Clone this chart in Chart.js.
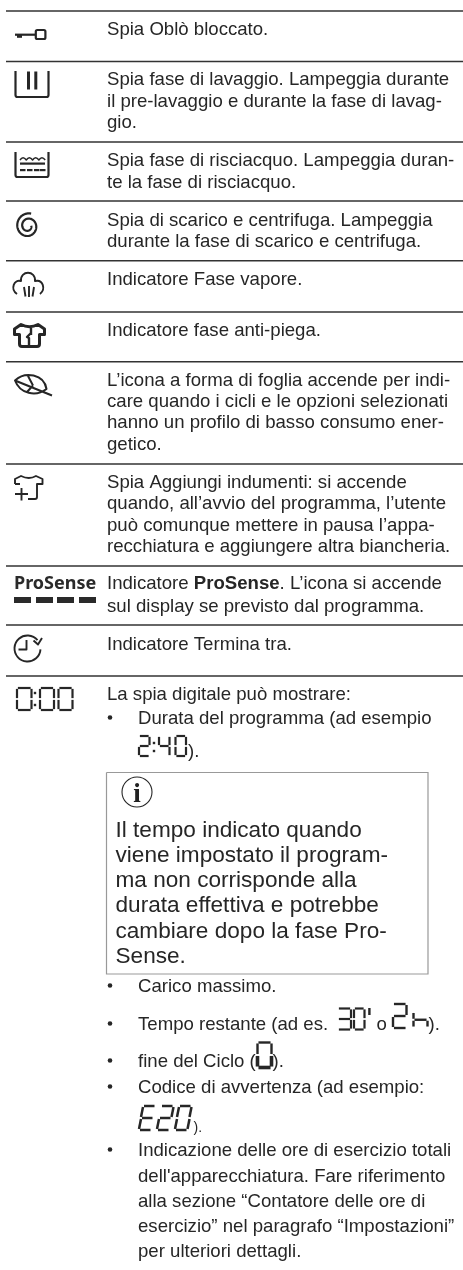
<!DOCTYPE html>
<html lang="it"><head><meta charset="utf-8">
<style>html,body{margin:0;padding:0;background:#fff}canvas{display:block;filter:blur(0.35px)}</style>
<script src="https://cdn.jsdelivr.net/npm/chart.js@4"></script>
</head><body>
<canvas id="c" width="463" height="1270"></canvas>
<script>
// ---- content ----
const rowTexts = [
 ["Spia Oblò bloccato."],
 ["Spia fase di lavaggio. Lampeggia durante","il pre-lavaggio e durante la fase di lavag-","gio."],
 ["Spia fase di risciacquo. Lampeggia duran-","te la fase di risciacquo."],
 ["Spia di scarico e centrifuga. Lampeggia","durante la fase di scarico e centrifuga."],
 ["Indicatore Fase vapore."],
 ["Indicatore fase anti-piega."],
 ["L’icona a forma di foglia accende per indi-","care quando i cicli e le opzioni selezionati","hanno un profilo di basso consumo ener-","getico."],
 ["Spia Aggiungi indumenti: si accende","quando, all’avvio del programma, l’utente","può comunque mettere in pausa l’appa-","recchiatura e aggiungere altra biancheria."],
 ["Indicatore **ProSense**. L’icona si accende","sul display se previsto dal programma."],
 ["Indicatore Termina tra."],
 ["La spia digitale può mostrare:"]
];
const rowBaselines = [[35],[85,106.7,128],[165.8,187.7],[226,246.8],[285],[335.8],[385.8,407,428.3,450],[488,509.3,530.7,551.8],[589.3,611.7],[650],[700]];
const noteLines = ["Il tempo indicato quando","viene impostato il program-","ma non corrisponde alla","durata effettiva e potrebbe","cambiare dopo la fase Pro-","Sense."];
const noteBaselines = [836.7,862.2,887.3,912.4,938.3,963.4];
const bulletLines = ["Durata del programma (ad esempio","Carico massimo.","Tempo restante (ad es. ","fine del Ciclo (","Codice di avvertenza (ad esempio:","Indicazione delle ore di esercizio totali","dell'apparecchiatura. Fare riferimento","alla sezione “Contatore delle ore di","esercizio” nel paragrafo “Impostazioni”","per ulteriori dettagli."];
const bulletBaselines = [724,992.3,1030,1067.4,1093.3,1156,1181.5,1207,1232,1257];
const ruleRows = [11,61.5,142,201,260.7,312,361.7,464,566,625,676];
const bulletRows = [717.5,985.5,1023.5,1060.5,1086.5,1149.5];
const noteBoxX = [106.5,428,428,106.5,106.5];
const noteBoxY = [772.5,772.5,974,974,772.5];

const INK='#262626';
function P(c,f){c.beginPath();f(c);c.stroke();}
function S(c,lw){c.lineWidth=lw;c.strokeStyle=INK;c.fillStyle=INK;c.lineCap='butt';c.lineJoin='round';}

// seven-segment glyph
const SEG={0:'abcdef',2:'abged',3:'abgcd',4:'fgbc',E:'afged',h:'fegc'};
function seg(c,x,y,w,h,ch,lw,skew=0,heavy){
  const X=(u,v)=>x+u*w+skew*(1-v), Y=v=>y+v*h, g=lw*0.4;
  const L={a:[[0,0],[1,0]],b:[[1,0],[1,.5]],c:[[1,.5],[1,1]],d:[[1,1],[0,1]],e:[[0,1],[0,.5]],f:[[0,.5],[0,0]],g:[[0,.5],[1,.5]]};
  S(c,lw);
  for(const s of SEG[ch]){
    const [p,q]=L[s];
    const dx=Math.sign(q[0]-p[0])*g, dy=Math.sign(q[1]-p[1])*g;
    c.lineWidth=(heavy&&(s==='d'||s==='c'||s==='e'))?lw*1.5:lw;
    P(c,k=>{k.moveTo(X(p[0],p[1])+dx,Y(p[1])+dy);k.lineTo(X(q[0],q[1])-dx,Y(q[1])-dy);});
  }
}
function colon(c,x,y1,y2){c.fillStyle=INK;c.fillRect(x-1.2,y1-1.2,2.4,2.4);c.fillRect(x-1.2,y2-1.2,2.4,2.4);}

function icons(c){
  // key
  S(c,2.2);
  c.fillRect(15,33.6,20,2.2); c.fillRect(17,35,5,2.8);
  c.beginPath();c.roundRect(35.8,30,9.6,9,1.5);c.stroke();
  // wash tub
  S(c,2.2);
  P(c,k=>{k.moveTo(15.5,71);k.lineTo(15.5,95);k.quadraticCurveTo(15.5,97,17.5,97);k.lineTo(46.5,97);k.quadraticCurveTo(48.5,97,48.5,95);k.lineTo(48.5,71);});
  c.fillRect(27,71.5,3,18);c.fillRect(34.3,71.5,3,18);
  // rinse tub
  P(c,k=>{k.moveTo(15.5,152);k.lineTo(15.5,175);k.quadraticCurveTo(15.5,177,17.5,177);k.lineTo(46.5,177);k.quadraticCurveTo(48.5,177,48.5,175);k.lineTo(48.5,152);});
  S(c,1.5);
  P(c,k=>{k.moveTo(20,160);for(let i=0;i<4;i++){k.quadraticCurveTo(23+i*6.3,155.5,26.3+i*6.3,160);}});
  c.fillRect(20,162.5,25,2.2);
  for(const x of [20,27,34,40]) c.fillRect(x,169,5.5,2.2);
  // spiral
  S(c,2.2);
  P(c,k=>{const cx=28,cy=226;for(let i=0;i<=120;i++){const t=i/120,a=(-75-t*650)*Math.PI/180,r=12.8-t*9.4;const px=cx+r*Math.cos(a)*0.95,py=cy+r*Math.sin(a);i?k.lineTo(px,py):k.moveTo(px,py);}});
  // cloud
  S(c,1.9);
  P(c,k=>{k.moveTo(17,294);k.bezierCurveTo(10,289,14,279,21,281);k.bezierCurveTo(20,270,36,270,35,281);k.bezierCurveTo(43,279,46,289,40,294);});
  P(c,k=>{k.moveTo(24,287);k.lineTo(25.5,296.5);k.moveTo(29,286);k.lineTo(29,297);k.moveTo(34,287);k.lineTo(32.5,296.5);});
  // anti-crease shirt
  S(c,3);
  P(c,k=>{k.moveTo(21,324.5);k.quadraticCurveTo(29.5,329,38,324.5);k.lineTo(44.5,329);k.lineTo(44.5,334.5);k.lineTo(39.5,334.5);k.lineTo(39.5,344);k.quadraticCurveTo(39.5,346.5,37,346.5);k.lineTo(22,346.5);k.quadraticCurveTo(19.5,346.5,19.5,344);k.lineTo(19.5,334.5);k.lineTo(14.5,334.5);k.lineTo(14.5,329);k.closePath();});
  S(c,2.4);
  P(c,k=>{k.moveTo(31,328);k.lineTo(31,335);k.moveTo(31,333);k.lineTo(27,337);k.lineTo(29,338);k.lineTo(29,346);});
  // leaf
  S(c,2);
  P(c,k=>{k.moveTo(15,380.5);k.bezierCurveTo(25,371,44,374,46.5,389);k.bezierCurveTo(36,397,20,394,15,380.5);k.closePath();
          k.moveTo(15,380.5);k.lineTo(52,395.5);k.moveTo(28,376);k.lineTo(33,385.5);k.moveTo(27,392);k.lineTo(33,385.5);});
  // add-laundry shirt
  S(c,1.9);
  P(c,k=>{k.moveTo(15,484);k.lineTo(15,479);k.lineTo(21,476);k.quadraticCurveTo(29,480,36,476);k.lineTo(42.5,479);k.lineTo(42.5,484);k.lineTo(37,484);k.lineTo(37,497);k.quadraticCurveTo(37,499,35,499);k.lineTo(28,499);
          k.moveTo(15,484);k.lineTo(20,484);k.moveTo(15,494);k.lineTo(28,494);k.moveTo(21.5,488);k.lineTo(21.5,500.5);});
  // ProSense logo
  c.font='bold 18px "Noto Sans"';c.fillStyle='#2a2a2a';c.textAlign='left';
  c.fillText('ProSense',14,589.3);
  for(const x of [14,36,57,79]) c.fillRect(x,597,17,6);
  // clock
  S(c,1.9);
  P(c,k=>{k.arc(27.5,648.5,13,0.02*Math.PI,-0.22*Math.PI,false);});
  P(c,k=>{k.moveTo(26.5,640);k.lineTo(26.5,649.5);k.lineTo(18.5,649.5);});
  P(c,k=>{k.moveTo(33.5,640.5);k.lineTo(38,644.5);k.lineTo(42,638);});
  // 0:00
  seg(c,17,688,14.5,22,0,2.2);colon(c,35,693,705);
  seg(c,40,688,14,22,0,2.2);seg(c,58.5,688,14,22,0,2.2);
  // 2:40
  seg(c,139,736,10.5,20,2,2.2);colon(c,154,743,751);
  seg(c,159,736,10.5,20,4,2.2);seg(c,175.5,736,10.5,20,0,2.2);
  // 30'
  seg(c,338,1008.5,13,21,3,2.2);seg(c,354,1008.5,10.5,21,0,2.2);
  c.fillRect(368.2,1008,2.4,7);
  // 2h
  seg(c,393,1004,13.5,24,2,2.4);seg(c,413.5,1012,14,15.5,'h',2.4);
  // end
  seg(c,257.5,1042.5,14,25,0,2.4,0,true);
  // E20
  seg(c,139,1106,12.5,24,'E',2.5,4);seg(c,157,1106,12.5,24,2,2.5,4);seg(c,175,1106,12.5,24,0,2.5,4);
}

const textPlugin={id:'tablePage',afterDatasetsDraw(ch){
  const c=ch.ctx,xs=ch.scales.x,ys=ch.scales.y;
  const X=v=>xs.getPixelForValue(v),Y=v=>ys.getPixelForValue(v);
  c.save();
  c.textBaseline='alphabetic';c.textAlign='left';
  const BODY='18.6px "Liberation Sans"',BOLD='bold 18.6px "Liberation Sans"';
  c.fillStyle=INK;
  rowTexts.forEach((lines,i)=>lines.forEach((ln,j)=>{
    let x=X(107),bold=false;
    ln.split('**').forEach(run=>{c.font=bold?BOLD:BODY;c.fillText(run,x,Y(rowBaselines[i][j]));x+=c.measureText(run).width;bold=!bold;});
  }));
  c.font=BODY;
  bulletLines.forEach((ln,i)=>c.fillText(ln,X(138),Y(bulletBaselines[i])));
  c.fillText(').',X(188),Y(757));
  c.fillText('o',X(376.5),Y(1030));
  c.fillText(').',X(428.5),Y(1030));
  c.fillText(').',X(272.5),Y(1067.4));
  c.font='14px "Liberation Sans"';c.fillText(').',X(193.5),Y(1131.5));
  c.font='22.6px "Liberation Sans"';
  noteLines.forEach((ln,i)=>c.fillText(ln,X(115.5),Y(noteBaselines[i])));
  // info symbol
  S(c,1.1);P(c,k=>k.arc(137,792,15,0,2*Math.PI));
  c.fillStyle='#222';c.font='bold 27px "Liberation Serif"';c.textAlign='center';c.fillText('i',137,801.5);c.textAlign='left';
  icons(c);
  c.restore();
}};

const ruleSets=ruleRows.map(y=>({type:'line',data:[{x:6,y},{x:463,y}],borderColor:'#333',borderWidth:1.6,pointRadius:0,parsing:false}));
new Chart(document.getElementById('c'),{
  type:'scatter',
  data:{datasets:[...ruleSets,
    {type:'line',data:noteBoxX.map((x,i)=>({x,y:noteBoxY[i]})),borderColor:'#999',borderWidth:1.2,pointRadius:0,tension:0,parsing:false},
    {type:'scatter',data:bulletRows.map(y=>({x:110,y})),backgroundColor:INK,borderWidth:0,pointRadius:2.3,parsing:false}
  ]},
  options:{responsive:false,animation:false,devicePixelRatio:1,
    layout:{padding:0,autoPadding:false},
    plugins:{legend:{display:false},tooltip:{enabled:false},title:{display:false}},
    scales:{x:{type:'linear',min:0,max:463,display:false},y:{type:'linear',min:0,max:1270,reverse:true,display:false}}},
  plugins:[textPlugin]
});
</script>
</body></html>
